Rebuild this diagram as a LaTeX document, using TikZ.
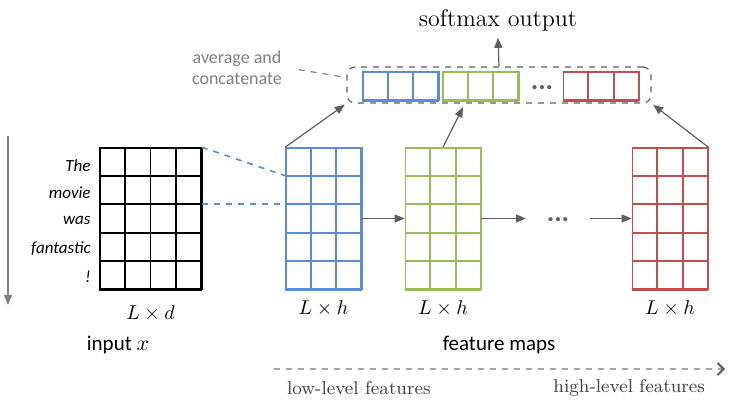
\documentclass[tikz,border=0pt]{standalone}
\usepackage{fontspec}
\setsansfont{Carlito}
\usepackage{xcolor}
\definecolor{mapblue}{RGB}{91, 141, 213}
\definecolor{mapgreen}{RGB}{155, 187, 89}
\definecolor{mapred}{RGB}{192, 80, 77}
\definecolor{arrgray}{RGB}{95, 95, 95}
\usetikzlibrary{calc,arrows.meta}

\tikzset{
  cell/.style={draw, line width=0.8pt, inner sep=0pt},
  conn/.style={draw=arrgray, line width=0.6pt, -{Triangle[length=5pt,width=4pt]}},
  word/.style={anchor=east, inner sep=0pt, font=\sffamily\itshape\fontsize{8.5}{10}\selectfont},
  dotsbox/.style={text=arrgray, inner sep=0pt, font=\sffamily\bfseries\fontsize{14}{15}\selectfont},
}

% inner rules of a grid node: node, colour, columns, rows
\newcommand{\cellrules}[4]{%
  \foreach \i in {1,...,#3}
    \draw[#2, line width=0.8pt] ($(#1.north west)!\i/#3!(#1.north east)$) -- ($(#1.south west)!\i/#3!(#1.south east)$);
  \foreach \j in {1,...,#4}
    \draw[#2, line width=0.8pt] ($(#1.north west)!\j/#4!(#1.south west)$) -- ($(#1.north east)!\j/#4!(#1.south east)$);
}

\begin{document}
\begin{tikzpicture}[x=0.5pt, y=-0.5pt]
      \useasboundingbox (0,0) rectangle (733,401);

      % input matrix
      \node[cell, draw=black, minimum width=50.5pt, minimum height=70.5pt] (inp) at (150.5,218.5) {};
      \cellrules{inp}{black}{4}{5}
      \foreach \w/\y [count=\k] in {The/166,movie/193,was/220,fantastic/249,!/277}
        \node[word] (w\k) at (91,\y) {\w};
      \node (Ld) at ($(inp.south)+(0,24)$) {$L \times d$};

      \coordinate (ordtop) at (8,136);
      \coordinate (ordbot) at (8,305);
      \draw[draw=gray, line width=0.6pt, -{Triangle[length=5pt,width=4pt]}] (ordtop) -- (ordbot);

      % feature maps
      \node[cell, draw=mapblue, minimum width=37.5pt, minimum height=70.5pt] (blue) at (323.5,218.5) {};
      \node[cell, draw=mapgreen, minimum width=37.5pt, minimum height=70.5pt] (green) at (443,218.5) {};
      \node[cell, draw=mapred, minimum width=37.5pt, minimum height=70.5pt] (red) at (670,218.5) {};
      \cellrules{blue}{mapblue}{3}{5}
      \cellrules{green}{mapgreen}{3}{5}
      \cellrules{red}{mapred}{3}{5}
      \node (Lh1) at ($(blue.south)+(0,19)$) {$L \times h$};
      \node (Lh2) at ($(green.south)+(0,19)$) {$L \times h$};
      \node (Lh3) at ($(red.south)+(0,19)$) {$L \times h$};
      \coordinate (dotsl) at (526,218.5);
      \coordinate (dotsr) at (590,218.5);
      \node[dotsbox] (dots) at (558,220) {...};

      \draw[mapblue, dashed, line width=0.8pt] (inp.north east) -- ($(blue.north west)!0.2!(blue.south west)$);
      \draw[mapblue, dashed, line width=0.8pt] ($(inp.north east)!0.4!(inp.south east)$) -- ($(blue.north west)!0.4!(blue.south west)$);

      \draw[conn] (blue.east) -- (green.west);
      \draw[conn] (green.east) -- (dotsl);
      \draw[conn] (dotsr) -- (red.west);

      % average and concatenate
      \node[draw=arrgray, dashed, rounded corners=4pt, line width=0.6pt, minimum width=152pt, minimum height=18pt] (cat) at (499,85) {};
      \node[cell, draw=mapblue, minimum width=37.5pt, minimum height=14pt] (catblue) at (400.5,86) {};
      \node[cell, draw=mapgreen, minimum width=37.5pt, minimum height=14pt] (catgreen) at (480.5,86) {};
      \node[cell, draw=mapred, minimum width=37.5pt, minimum height=14pt] (catred) at (601,86) {};
      \cellrules{catblue}{mapblue}{3}{1}
      \cellrules{catgreen}{mapgreen}{3}{1}
      \cellrules{catred}{mapred}{3}{1}
      \node[dotsbox] (catdots) at (542,88) {...};

      \node[align=center, text=gray, font=\sffamily\fontsize{9}{10.5}\selectfont] (avg) at (237,68) {average and\\concatenate};
      \draw[gray, dashed, line width=0.6pt, shorten <=5pt] (avg.east) -- ($(cat.north west)!0.3!(cat.south west)$);

      \draw[conn, shorten >=1pt] (blue.north west) -- (cat.south west);
      \draw[conn, shorten >=2pt] (green.north) -- ($(cat.south west)!0.388!(cat.south east)$);
      \draw[conn, shorten >=1pt] (red.north east) -- (cat.south east);

      \node[font=\fontsize{12}{14}\selectfont] (soft) at (498,20) {softmax output};
      \draw[conn] (cat.north) -- (soft.south);

      % bottom labels
      \node[font=\sffamily\fontsize{10.5}{12}\selectfont] (inx) at (118,345) {input $x$};
      \node[font=\sffamily\fontsize{10.5}{12}\selectfont] (fmaps) at (499,345) {feature maps};
      \coordinate (lo) at (274,369);
      \coordinate (hi) at (725,369);
      \draw[gray!70, dashed, line width=0.8pt, -{Straight Barb[color=arrgray,length=3pt,width=6pt,line width=1pt]}] (lo) -- (hi);
      \node[anchor=west, text=black!75, font=\fontsize{9.3}{11}\selectfont] (lowf) at (280,388) {low-level features};
      \node[anchor=east, text=black!75, font=\fontsize{9.3}{11}\selectfont] (highf) at (712,388) {high-level features};
\end{tikzpicture}
\end{document}
